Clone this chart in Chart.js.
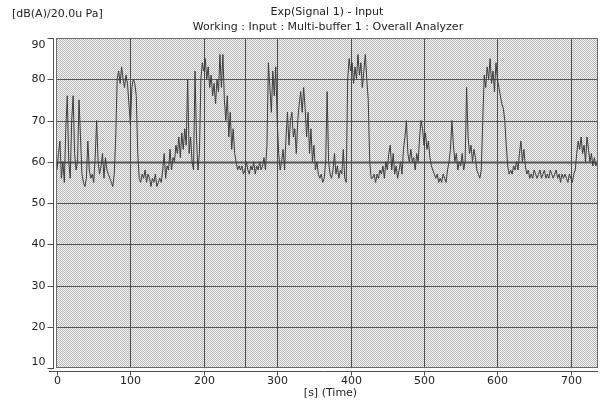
<!DOCTYPE html>
<html><head><meta charset="utf-8">
<script src="https://cdn.jsdelivr.net/npm/chart.js@4.4.1/dist/chart.umd.min.js"></script>
<style>html,body{margin:0;padding:0;background:#fff}#wrap{width:600px;height:404px}</style>
</head><body><div id="wrap"><canvas id="c" width="600" height="404"></canvas></div>
<script>
// ---- data ----
const sampleStep = 2; // seconds between samples
const levels = [
 58,62,65,56,60,55,68,76,60,56,
 70,76,62,58,60,75,66,57,55,54,
 56,65,58,56,57,55,61,70,60,57,
 59,62,56,61,58,57,56,55,54,57,
 66,80,82,79,83,80,78,81,79,74,
 69,78,80,79,76,62,56,55,57,56,
 58,55,57,56,54,56,55,57,54,55,
 56,55,58,62,56,59,58,63,58,61,
 60,64,62,66,61,67,63,68,64,80,
 62,66,60,58,82,66,58,62,80,84,
 82,85,80,83,78,81,76,79,74,80,
 77,86,78,86,75,70,76,66,72,63,
 68,62,60,58,59,58,59,57,58,60,
 58,57,59,58,60,57,59,58,60,58,
 59,61,58,64,84,78,72,82,76,83,
 70,62,58,60,63,58,66,72,64,70,
 72,66,68,62,70,74,77,72,78,73,
 66,72,62,68,60,64,58,60,57,56,
 57,55,56,60,77,60,57,56,58,62,
 57,59,56,58,57,63,56,55,80,85,
 82,84,79,83,80,86,81,84,78,82,
 86,80,75,60,56,56,57,55,57,56,
 58,57,59,56,60,58,62,64,58,62,
 57,59,56,58,60,57,63,66,70,62,
 60,63,60,61,58,62,60,66,70,68,
 64,67,63,65,61,59,58,57,56,57,
 55,56,55,57,56,55,58,60,63,70,
 64,60,62,58,60,59,62,58,60,78,
 66,62,64,60,63,61,58,57,56,58,
 70,81,78,83,80,85,79,82,77,84,
 80,78,76,74,73,70,64,59,57,58,
 57,59,58,60,58,62,65,60,63,59,
 57,58,56,57,56,58,57,56,57,58,
 56,57,58,56,57,56,58,57,56,57,
 58,56,57,55,57,56,57,56,55,57,
 56,55,57,58,62,65,63,66,62,64,
 60,66,63,60,62,59,61,59,60
];
const xTicks = [0,100,200,300,400,500,600,700];
const yTicks = [10,20,30,40,50,60,70,80,90];
const segmentMarks = [256];
const xMin = 0, xMax = 737, yMin = 10, yMax = 90;
const unitLabel = "[dB(A)/20.0u Pa]";
const titleMain = "Exp(Signal 1) - Input";
const titleSub = "Working : Input : Multi-buffer 1 : Overall Analyzer";
const xTitle = "[s] (Time)";

const points = levels.map((v, i) => ({x: i * sampleStep, y: v}));

const FONT = '11px "DejaVu Sans", sans-serif';
const TXT = '#1e1e1e';

function makePattern(ctx){
  const c = document.createElement('canvas');
  c.width = 2; c.height = 2;
  const g = c.getContext('2d');
  g.fillStyle = '#f5f5f5'; g.fillRect(0,0,2,2);
  g.fillStyle = '#b6b6b6'; g.fillRect(0,0,1,1); g.fillRect(1,1,1,1);
  return ctx.createPattern(c, 'repeat');
}

const decor = {
  id: 'decor',
  beforeDraw(chart){
    const {ctx, chartArea: a} = chart;
    ctx.save();
    ctx.fillStyle = '#fff'; ctx.fillRect(0,0,chart.width,chart.height);
    ctx.fillStyle = makePattern(ctx);
    ctx.fillRect(a.left, a.top, a.right - a.left, a.bottom - a.top);
    ctx.restore();
  },
  beforeDatasetsDraw(chart){
    const {ctx, chartArea: a, scales: {x, y}} = chart;
    ctx.save();
    yTicks.forEach(v => {
      if (v === yMin || v === yMax) return;
      const py = Math.round(y.getPixelForValue(v)) + 0.5;
      if (v === 60) {
        ctx.strokeStyle = 'rgba(130,130,130,0.75)'; ctx.lineWidth = 3;
        ctx.beginPath(); ctx.moveTo(a.left, py); ctx.lineTo(a.right, py); ctx.stroke();
      }
      ctx.strokeStyle = '#555555'; ctx.lineWidth = 1;
      ctx.beginPath(); ctx.moveTo(a.left, py); ctx.lineTo(a.right, py); ctx.stroke();
    });
    xTicks.concat(segmentMarks).forEach(v => {
      if (v === xMin) return;
      const px = Math.round(x.getPixelForValue(v)) + 0.5;
      ctx.strokeStyle = '#4e4e4e'; ctx.lineWidth = 1;
      ctx.beginPath(); ctx.moveTo(px, a.top); ctx.lineTo(px, a.bottom); ctx.stroke();
    });
    ctx.restore();
  },
  afterDraw(chart){
    const {ctx, chartArea: a, scales: {x, y}} = chart;
    ctx.save();
    ctx.strokeStyle = '#6a6a6a'; ctx.lineWidth = 1;
    ctx.strokeRect(a.left - 0.5, a.top + 0.5, a.right - a.left, a.bottom - a.top - 1);
    const yAxX = a.left - 3.5;
    ctx.strokeStyle = '#505050';
    ctx.beginPath(); ctx.moveTo(yAxX, y.getPixelForValue(yMax)); ctx.lineTo(yAxX, y.getPixelForValue(yMin) + 1); ctx.stroke();
    ctx.font = FONT; ctx.fillStyle = TXT; ctx.textAlign = 'right'; ctx.textBaseline = 'middle';
    yTicks.forEach(v => {
      const py = Math.round(y.getPixelForValue(v)) + 0.5;
      ctx.beginPath(); ctx.moveTo(yAxX - 6, py); ctx.lineTo(yAxX, py); ctx.stroke();
      let ly = py;
      if (v === yMax) ly = py + 7;
      if (v === yMin) ly = py - 6;
      ctx.fillText(String(v), yAxX - 8, ly);
    });
    const xAxY = a.bottom + 3.5;
    ctx.beginPath(); ctx.moveTo(a.left - 8, xAxY); ctx.lineTo(a.right, xAxY); ctx.stroke();
    ctx.textAlign = 'center'; ctx.textBaseline = 'middle';
    xTicks.forEach(v => {
      const px = Math.round(x.getPixelForValue(v)) + 0.5;
      ctx.beginPath(); ctx.moveTo(px, xAxY); ctx.lineTo(px, xAxY + 4); ctx.stroke();
      ctx.fillText(String(v), px, xAxY + 10);
    });
    ctx.fillText(xTitle, (a.left + a.right) / 2 + 3, xAxY + 22);
    ctx.fillText(titleMain, 327, 12);
    ctx.fillText(titleSub, 328, 27);
    ctx.textAlign = 'left';
    ctx.fillText(unitLabel, 12, 14);
    ctx.restore();
  }
};

new Chart(document.getElementById('c'), {
  type: 'line',
  data: { datasets: [{ data: points, borderColor: '#3c3c3c', borderWidth: 1, pointRadius: 0, tension: 0, fill: false }] },
  options: {
    responsive: false, animation: false,
    layout: { padding: { left: 57, right: 2, top: 38, bottom: 36 } },
    scales: {
      x: { type: 'linear', min: xMin, max: xMax, display: false },
      y: { type: 'linear', min: yMin, max: yMax, display: false }
    },
    plugins: { legend: { display: false }, tooltip: { enabled: false }, title: { display: false } }
  },
  plugins: [decor]
});
</script></body></html>
